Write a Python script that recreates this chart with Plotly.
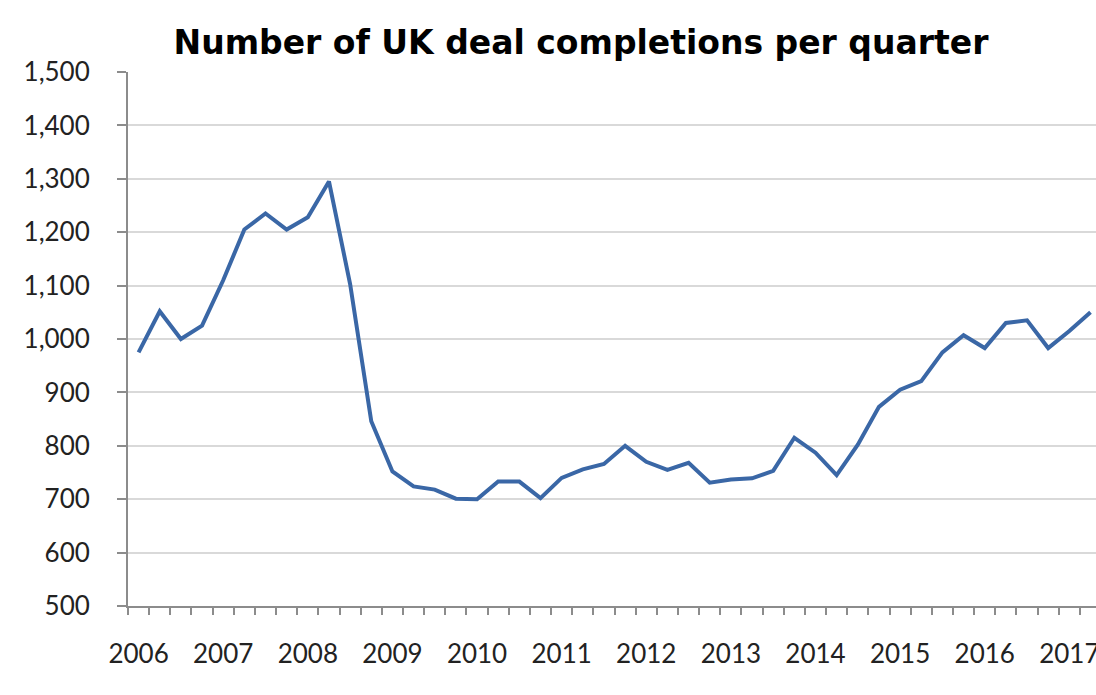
import plotly.graph_objects as go

quarters = [f"{y} Q{q}" for y in range(2006, 2018) for q in range(1, 5)][:46]
deals = [975, 1052, 1000, 1025, 1110, 1205, 1235, 1205, 1228, 1295,
         1103, 846, 752, 724, 718, 701, 700, 733, 733, 702,
         740, 756, 766, 800, 770, 755, 768, 731, 737, 739,
         753, 815, 787, 745, 802, 873, 905, 921, 975, 1007,
         983, 1030, 1035, 983, 1015, 1050]
year_labels = [str(y) for y in range(2006, 2018)]
y_ticks = list(range(500, 1501, 100))

x_idx = list(range(len(deals)))
year_pos = x_idx[::4]

fig = go.Figure()
fig.add_trace(go.Scatter(
    x=x_idx, y=deals, mode="lines",
    line=dict(color="#3A67A6", width=4),
    text=quarters, hoverinfo="text+y",
))

grey = "#8C8C8C"
fig.update_layout(
    width=1096, height=695,
    margin=dict(l=128, r=0, t=72, b=89, autoexpand=False),
    paper_bgcolor="white", plot_bgcolor="white",
    showlegend=False,
    title=dict(text="<b>Number of UK deal completions per quarter</b>",
               x=581/1096, xanchor="center", y=1-42/695, yanchor="middle",
               font=dict(family="DejaVu Sans", size=33, color="#000000")),
    font=dict(family="Lato", size=26, color="#333333"),
)
fig.update_xaxes(
    range=[-0.5, 45.26], automargin=False,
    tickmode="array", tickvals=year_pos, ticktext=year_labels,
    ticks="", showgrid=False, zeroline=False,
    showline=True, linecolor=grey, linewidth=2,
    ticklabelstandoff=24, ticklabeloverflow="allow",
    tickfont=dict(family="Lato", size=26, color="#222222"),
    minor=dict(ticks="outside", tick0=-0.5, dtick=1, ticklen=7,
               tickwidth=2, tickcolor=grey, showgrid=False),
)
fig.update_yaxes(
    range=[500, 1500], automargin=False,
    tickmode="array", tickvals=y_ticks, tickformat=",d",
    ticks="outside", ticklen=9, tickwidth=2, tickcolor=grey,
    showgrid=True, gridcolor="#D9D9D9", gridwidth=2,
    zeroline=False, showline=True, linecolor=grey, linewidth=2,
    ticklabelstandoff=22,
    tickfont=dict(family="Lato", size=26, color="#222222"),
)

fig.write_html("out.html")
